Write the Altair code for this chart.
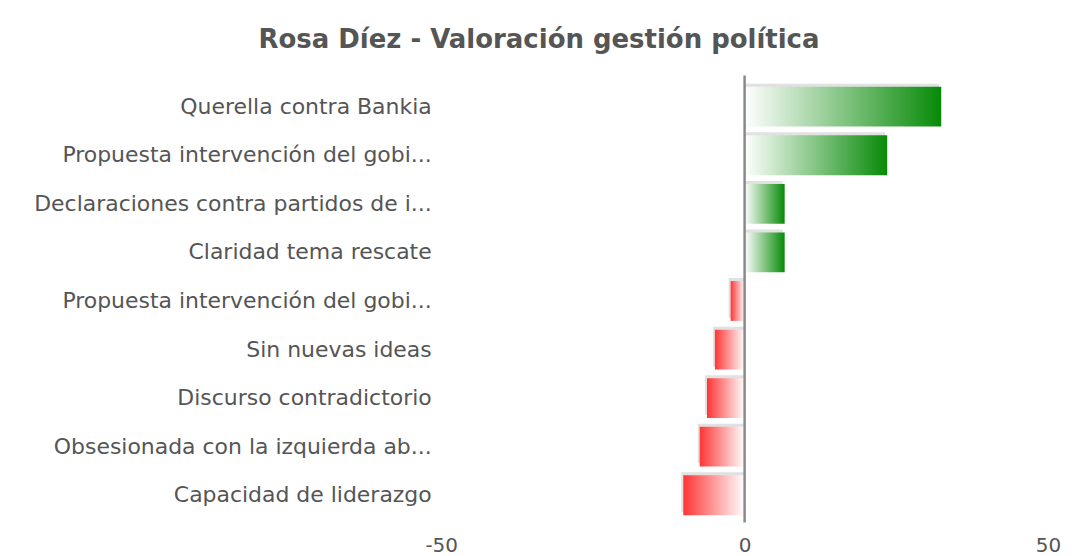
import json
import altair as alt
import pandas as pd

labels = [
    "Querella contra Bankia",
    "Propuesta intervención del gobi...",
    "Declaraciones contra partidos de i...",
    "Claridad tema rescate",
    "Propuesta intervención del gobi...",
    "Sin nuevas ideas",
    "Discurso contradictorio",
    "Obsesionada con la izquierda ab...",
    "Capacidad de liderazgo",
]
values = [32.4, 23.5, 6.6, 6.6, -2.3, -4.9, -6.2, -7.4, -10.1]
x_ticks = [-50, 0, 50]

df = pd.DataFrame({"idx": list(range(len(labels))), "label": labels, "value": values})

label_expr = "[" + ",".join(json.dumps(l, ensure_ascii=False) for l in labels) + "][datum.value]"

W, H = 608, 438

y_enc = alt.Y(
    "idx:O",
    title=None,
    scale=alt.Scale(paddingInner=0.18, paddingOuter=0.09),
    axis=alt.Axis(
        labelExpr=label_expr, domain=False, ticks=False, labelPadding=10,
        labelFont="DejaVu Sans", labelFontSize=22, labelColor="#555555",
        labelLimit=600, grid=False,
    ),
)
x_enc = alt.X(
    "value:Q",
    title=None,
    scale=alt.Scale(domain=[-50, 50], nice=False),
    axis=alt.Axis(
        values=x_ticks, domain=False, ticks=False, grid=False, labelPadding=16,
        labelFont="DejaVu Sans", labelFontSize=20, labelColor="#555555",
        labelFlush=False,
        labelExpr="datum.value < 0 ? '-' + abs(datum.value) : '' + datum.value",
    ),
)

base = alt.Chart(df).encode(y=y_enc, x=x_enc, x2=alt.datum(0))

shadow = base.mark_bar(color="#888888", opacity=0.25, xOffset=-2, yOffset=-3, cornerRadius=1)

green = alt.Gradient(
    gradient="linear", x1=0, x2=1, y1=0, y2=0,
    stops=[alt.GradientStop(color="#ffffff", offset=0),
           alt.GradientStop(color="#078a07", offset=1)],
)
red = alt.Gradient(
    gradient="linear", x1=0, x2=1, y1=0, y2=0,
    stops=[alt.GradientStop(color="#ff3535", offset=0),
           alt.GradientStop(color="#ffffff", offset=1)],
)

pos = base.transform_filter("datum.value >= 0").mark_bar(color=green)
neg = base.transform_filter("datum.value < 0").mark_bar(color=red)

zero = alt.Chart(pd.DataFrame({"z": [0]})).mark_rule(color="#8a8a8a", strokeWidth=2.5).encode(
    x=alt.X("z:Q"),
    y=alt.value(-7),
    y2=alt.value(H + 3),
)

chart = (
    alt.layer(shadow, pos, neg, zero)
    .properties(
        width=W,
        height=H,
        autosize=alt.AutoSizeParams(type="none"),
        padding={"left": 434, "top": 74, "right": 20, "bottom": 40},
        view=alt.ViewBackground(stroke="transparent", strokeWidth=0),
        title=alt.TitleParams(
            "Rosa Díez - Valoración gestión política",
            font="DejaVu Sans",
            fontSize=26, fontWeight="bold", color="#555555",
            anchor="middle", frame="group", dx=-206, offset=21,
        ),
    )
    .configure_view(strokeWidth=0, stroke="transparent")
    .configure_axis(grid=False)
    .configure(background="#ffffff")
)

chart.save("out.html", embed_options={"renderer": "svg", "actions": False})
